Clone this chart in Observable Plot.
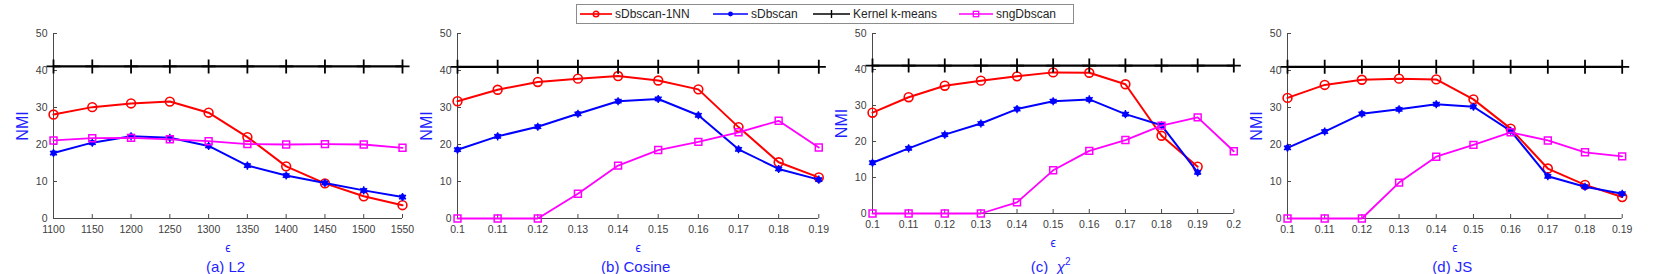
<!DOCTYPE html>
<html><head><meta charset="utf-8">
<script src="https://cdn.jsdelivr.net/npm/d3@7"></script>
<script src="https://cdn.jsdelivr.net/npm/@observablehq/plot@0.6"></script>
<style>
body{margin:0;background:#fff;font-family:"Liberation Sans",Arial,sans-serif;}
#root{position:relative;width:1661px;height:274px;overflow:hidden;background:#fff;}
.panel{position:absolute;top:0;}
.title{position:absolute;top:259px;font-size:15px;line-height:15px;color:#1f1fff;white-space:nowrap;transform:translateX(-50%);}
.title sup{font-size:10px;vertical-align:7px;line-height:0;}
.legend{position:absolute;left:576px;top:4px;width:496px;height:18px;border:1px solid #8c8c8c;background:#fff;}
.li{position:absolute;top:0;height:18px;display:flex;align-items:center;font-size:12px;color:#262626;white-space:nowrap;}
.li svg{display:block;margin-right:3px;}
</style>
</head><body>
<div id="root"></div>
<script>
// ---------- data ----------
const seriesNames  = ["sDbscan-1NN", "sDbscan", "Kernel k-means", "sngDbscan"];
const seriesColors = ["#ff0000", "#0000ff", "#000000", "#ff00ff"];
const yTicks = [0, 10, 20, 30, 40, 50];

const epsL2  = [1100, 1150, 1200, 1250, 1300, 1350, 1400, 1450, 1500, 1550];
const epsCos = [0.10, 0.11, 0.12, 0.13, 0.14, 0.15, 0.16, 0.17, 0.18, 0.19];
const epsChi = [0.10, 0.11, 0.12, 0.13, 0.14, 0.15, 0.16, 0.17, 0.18, 0.19, 0.20];
const epsJS  = [0.10, 0.11, 0.12, 0.13, 0.14, 0.15, 0.16, 0.17, 0.18, 0.19];

const xTicksL2  = ["1100","1150","1200","1250","1300","1350","1400","1450","1500","1550"];
const xTicksCos = ["0.1","0.11","0.12","0.13","0.14","0.15","0.16","0.17","0.18","0.19"];
const xTicksChi = ["0.1","0.11","0.12","0.13","0.14","0.15","0.16","0.17","0.18","0.19","0.2"];
const xTicksJS  = ["0.1","0.11","0.12","0.13","0.14","0.15","0.16","0.17","0.18","0.19"];

const l2_1nn = [28.1, 30.1, 31.1, 31.6, 28.6, 22.0, 14.1, 9.5, 6.0, 3.6];
const l2_sdb = [17.7, 20.5, 22.2, 21.8, 19.6, 14.3, 11.6, 9.6, 7.6, 5.8];
const l2_kkm = [41.1, 41.1, 41.1, 41.1, 41.1, 41.1, 41.1, 41.1, 41.1, 41.1];
const l2_sng = [21.1, 21.7, 21.8, 21.4, 20.9, 20.1, 20.0, 20.1, 20.0, 19.1];

const cos_1nn = [31.7, 34.8, 36.9, 37.8, 38.5, 37.3, 34.9, 24.7, 15.2, 11.1];
const cos_sdb = [18.6, 22.2, 24.8, 28.3, 31.7, 32.3, 27.9, 18.7, 13.4, 10.5];
const cos_kkm = [41.0, 41.0, 41.0, 41.0, 41.0, 41.0, 41.0, 41.0, 41.0, 41.0];
const cos_sng = [0, 0, 0, 6.7, 14.3, 18.5, 20.7, 23.3, 26.4, 19.2];

const chi_1nn = [28.0, 32.3, 35.5, 36.9, 38.1, 39.2, 39.1, 35.9, 21.6, 13.0];
const chi_sdb = [14.1, 18.1, 21.9, 25.0, 29.0, 31.2, 31.7, 27.6, 24.5, 11.4];
const chi_kkm = [41.1, 41.1, 41.1, 41.1, 41.1, 41.1, 41.1, 41.1, 41.1, 41.1, 41.1];
const chi_sng = [0, 0, 0, 0, 3.1, 12.0, 17.4, 20.4, 24.4, 26.7, 17.3];

const js_1nn = [32.6, 36.1, 37.5, 37.8, 37.6, 32.2, 24.3, 13.5, 9.1, 5.8];
const js_sdb = [19.1, 23.5, 28.3, 29.5, 30.9, 30.2, 23.7, 11.4, 8.6, 6.7];
const js_kkm = [41.0, 41.0, 41.0, 41.0, 41.0, 41.0, 41.0, 41.0, 41.0, 41.0];
const js_sng = [0, 0, 0, 9.7, 16.7, 19.9, 23.3, 21.1, 17.9, 16.8];

// ---------- drawing ----------
const BLUE_TXT = "#1f1fff";
const AXIS = "#4a4a4a";
const FONT = "Liberation Sans, Arial, sans-serif";

function toRows(eps, vals) { return vals.map((v, i) => ({x: eps[i], y: v})); }

function seriesMarks(i, rows) {
  const c = seriesColors[i];
  const m = [];
  if (i === 0) {
    m.push(Plot.line(rows, {x: "x", y: "y", stroke: c, strokeWidth: 2}));
    m.push(Plot.dot(rows, {x: "x", y: "y", symbol: "circle", r: 4.4, stroke: c, fill: "none", strokeWidth: 1.6}));
  } else if (i === 1) {
    m.push(Plot.line(rows, {x: "x", y: "y", stroke: c, strokeWidth: 2}));
    m.push(Plot.dot(rows, {x: "x", y: "y", symbol: "circle", r: 3, fill: c, stroke: "none"}));
    m.push(Plot.dot(rows, {x: "x", y: "y", symbol: "asterisk", r: 3.8, stroke: c, strokeWidth: 1.4}));
  } else if (i === 2) {
    m.push(Plot.line(rows, {x: "x", y: "y", stroke: c, strokeWidth: 2.2}));
    m.push(Plot.dot(rows, {x: "x", y: "y", symbol: "plus", r: 4.6, stroke: c, strokeWidth: 1.8}));
  } else {
    m.push(Plot.line(rows, {x: "x", y: "y", stroke: c, strokeWidth: 1.8}));
    m.push(Plot.dot(rows, {x: "x", y: "y", symbol: "square", r: 3.9, stroke: c, fill: "none", strokeWidth: 1.5}));
  }
  return m;
}

function makePanel(cfg) {
  const {left, width, mL, mR, mB, eps, series, xTickLabels, title} = cfg;
  const xTickVals = xTickLabels.map(Number);
  const plotW = width - mL - mR;
  const plotH = 274 - 33 - mB;
  const marks = [];
  // axis lines
  marks.push(Plot.ruleX([xTickVals[0]], {x: d => d, stroke: AXIS, strokeWidth: 1}));
  marks.push(Plot.ruleY([yTicks[0]], {y: d => d, stroke: AXIS, strokeWidth: 1}));
  // inward ticks
  marks.push(Plot.tickY(yTicks, {y: d => d, stroke: AXIS, insetRight: plotW - 4}));
  marks.push(Plot.tickX(xTickVals, {x: d => d, stroke: AXIS, insetTop: plotH - 4}));
  // tick labels
  marks.push(Plot.axisY(yTicks, {anchor: "left", tickSize: 0, tickPadding: 6, label: null,
    color: "#404040", fontSize: 10.5}));
  marks.push(Plot.axisX(xTickVals, {anchor: "bottom", tickSize: 0, tickPadding: 7, label: null,
    color: "#404040", fontSize: 10.5, tickFormat: (d, i) => xTickLabels[i]}));
  marks.push(Plot.text(["NMI"], {text: d => d, frameAnchor: "left", textAnchor: "middle", lineAnchor: "middle",
    rotate: -90, dx: -31, fill: BLUE_TXT, fontSize: 16}));
  marks.push(Plot.text(["ϵ"], {text: d => d, frameAnchor: "bottom", textAnchor: "middle", lineAnchor: "middle",
    dy: 30, fill: BLUE_TXT, fontSize: 12}));
  series.forEach((vals, i) => {
    const e = vals.length === eps.length ? eps : eps.slice(0, vals.length);
    marks.push(...seriesMarks(i, toRows(e, vals)));
  });
  const svg = Plot.plot({
    width, height: 274,
    marginLeft: mL, marginRight: mR, marginTop: 33, marginBottom: mB,
    x: {type: "linear", domain: [xTickVals[0], xTickVals[xTickVals.length - 1]], axis: null},
    y: {domain: [0, 50], axis: null},
    style: {fontFamily: FONT, background: "transparent", overflow: "visible"},
    marks
  });
  const wrap = document.createElement("div");
  wrap.className = "panel";
  wrap.style.left = left + "px";
  wrap.appendChild(svg);
  document.getElementById("root").appendChild(wrap);
  const t = document.createElement("div");
  t.className = "title";
  t.style.left = (left + mL + plotW / 2 - 2) + "px";
  t.innerHTML = title;
  document.getElementById("root").appendChild(t);
}

makePanel({left: 0, width: 410, mL: 53, mR: 8, mB: 56, eps: epsL2,
  series: [l2_1nn, l2_sdb, l2_kkm, l2_sng], xTickLabels: xTicksL2, title: "(a) L2"});
makePanel({left: 410, width: 410, mL: 47, mR: 1.7, mB: 56, eps: epsCos,
  series: [cos_1nn, cos_sdb, cos_kkm, cos_sng], xTickLabels: xTicksCos, title: "(b) Cosine"});
makePanel({left: 820, width: 420, mL: 52, mR: 6.7, mB: 61, eps: epsChi,
  series: [chi_1nn, chi_sdb, chi_kkm, chi_sng], xTickLabels: xTicksChi, title: "(c)&nbsp;&nbsp;<i>χ</i><sup>2</sup>"});
makePanel({left: 1240, width: 421, mL: 47, mR: 39.3, mB: 56, eps: epsJS,
  series: [js_1nn, js_sdb, js_kkm, js_sng], xTickLabels: xTicksJS, title: "(d) JS"});

// ---------- legend ----------
const legend = document.createElement("div");
legend.className = "legend";
document.getElementById("root").appendChild(legend);
const legendPos = [[580, 32], [713, 35], [813, 37], [959, 34]];
const ns = "http://www.w3.org/2000/svg";
seriesNames.forEach((name, i) => {
  const [x, w] = legendPos[i];
  const item = document.createElement("div");
  item.className = "li";
  item.style.left = (x - 577) + "px";
  const s = document.createElementNS(ns, "svg");
  s.setAttribute("width", w); s.setAttribute("height", 12);
  const c = seriesColors[i];
  let inner = `<line x1="0" x2="${w}" y1="6" y2="6" stroke="${c}" stroke-width="1.7"/>`;
  const cx = w / 2;
  if (i === 0) inner += `<circle cx="${cx}" cy="6" r="2.8" fill="none" stroke="${c}" stroke-width="1.4"/>`;
  if (i === 1) inner += `<circle cx="${cx}" cy="6" r="2.4" fill="${c}"/>`;
  if (i === 2) inner += `<line x1="${cx}" x2="${cx}" y1="2" y2="10" stroke="${c}" stroke-width="1.4"/>`;
  if (i === 3) inner += `<rect x="${cx-2.7}" y="3.3" width="5.4" height="5.4" fill="none" stroke="${c}" stroke-width="1.3"/>`;
  s.innerHTML = inner;
  item.appendChild(s);
  const sp = document.createElement("span");
  sp.textContent = name;
  item.appendChild(sp);
  legend.appendChild(item);
});
</script>
</body></html>
